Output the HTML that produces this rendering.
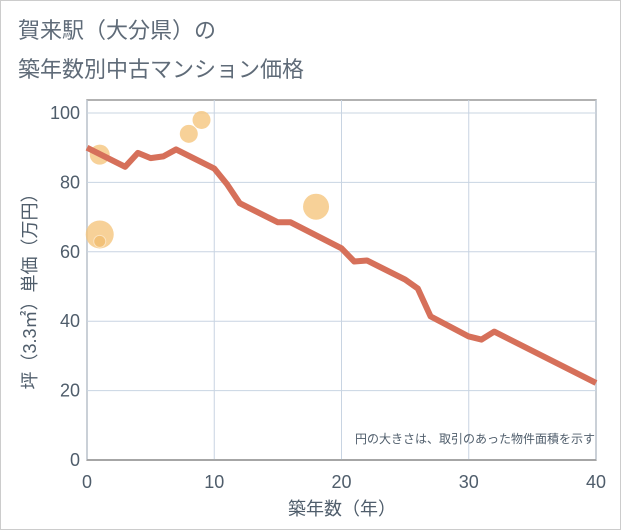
<!DOCTYPE html>
<html><head><meta charset="utf-8"><style>
body{margin:0;background:#fff;}
svg{display:block;font-family:"Liberation Sans","Noto Sans CJK JP",sans-serif;}
</style></head><body>
<svg width="621" height="530" viewBox="0 0 621 530">
<rect x="0.5" y="0.5" width="620" height="529" fill="#fff" stroke="#ccc"/>
<text x="18" y="38" font-size="22" fill="#5f6b78">賀来駅（大分県）の</text>
<text x="18" y="77" font-size="22" fill="#5f6b78">築年数別中古マンション価格</text>
<g id="grid"></g>
<g id="bubbles"></g>
<g id="line"></g>
<g id="axes"></g>
<text x="595" y="443" font-size="12" fill="#4f5d6b" text-anchor="end">円の大きさは、取引のあった物件面積を示す</text>
<text x="342" y="515" font-size="18" fill="#4f5d6b" text-anchor="middle">築年数（年）</text>
<text transform="translate(36,287) rotate(-90)" font-size="18" fill="#4f5d6b" text-anchor="middle">坪（3.3㎡）単価（万円）</text>
</svg>
<script>
const xTicks=[0,10,20,30,40];
const yTicks=[0,20,40,60,80,100];
const lineYears=[0,3,4,5,6,7,10,11,12,15,16,20,21,22,25,26,27,30,31,32,40];
const linePrices=[90,84.5,88.5,87,87.5,89.5,84,79.5,74,68.5,68.5,61,57.2,57.5,52,49.4,41.4,35.6,34.7,37,22.2];
const bubbleYears=[1,8,9,18,1,1];
const bubblePrices=[88,94,98,73,65,63];
const bubbleSizes=[10,9,9,13,14,6];
const X0=87,X1=596,Y0=460,Y1=113;
const sx=v=>X0+(v-0)/40*(X1-X0);
const sy=v=>Y0-(v/100)*(Y0-Y1);
const NS="http://www.w3.org/2000/svg";
function mk(t,a,p){const e=document.createElementNS(NS,t);for(const k in a)e.setAttribute(k,a[k]);p.appendChild(e);return e;}
const grid=document.getElementById('grid'),axes=document.getElementById('axes');
mk('rect',{x:X0,y:100,width:X1-X0,height:Y0-100,fill:'none',stroke:'#999','stroke-width':1.5},grid);
xTicks.forEach(t=>{const l=mk('line',{x1:sx(t),x2:sx(t),y1:100,y2:Y0,stroke:'#c8d4e2','stroke-width':1},grid);


const tx=mk('text',{x:sx(t),y:488,'font-size':18,fill:'#4f5d6b','text-anchor':'middle'},axes);tx.textContent=t;

});
yTicks.forEach(t=>{const l=mk('line',{x1:X0,x2:X1,y1:sy(t),y2:sy(t),stroke:'#c8d4e2','stroke-width':1},grid);


const tx=mk('text',{x:80,y:sy(t)+6,'font-size':18,fill:'#4f5d6b','text-anchor':'end'},axes);tx.textContent=t;

});
mk('line',{x1:X0,x2:X1,y1:Y0,y2:Y0,stroke:'#999','stroke-width':1.5},axes);
const bg=document.getElementById('bubbles');
bubbleYears.forEach((y,i)=>{const c=mk('circle',{cx:sx(y),cy:sy(bubblePrices[i]),r:bubbleSizes[i],fill:i==5?'#f0bd70':'#f5c67e','fill-opacity':0.8,stroke:i==5?'#fbe3c0':'none'},bg);

});
const p=mk('polyline',{points:lineYears.map((y,i)=>sx(y)+','+sy(linePrices[i])).join(' '),fill:'none',stroke:'#d6705a','stroke-width':6,'stroke-linejoin':'round'},document.getElementById('line'));


</script>
</body></html>
